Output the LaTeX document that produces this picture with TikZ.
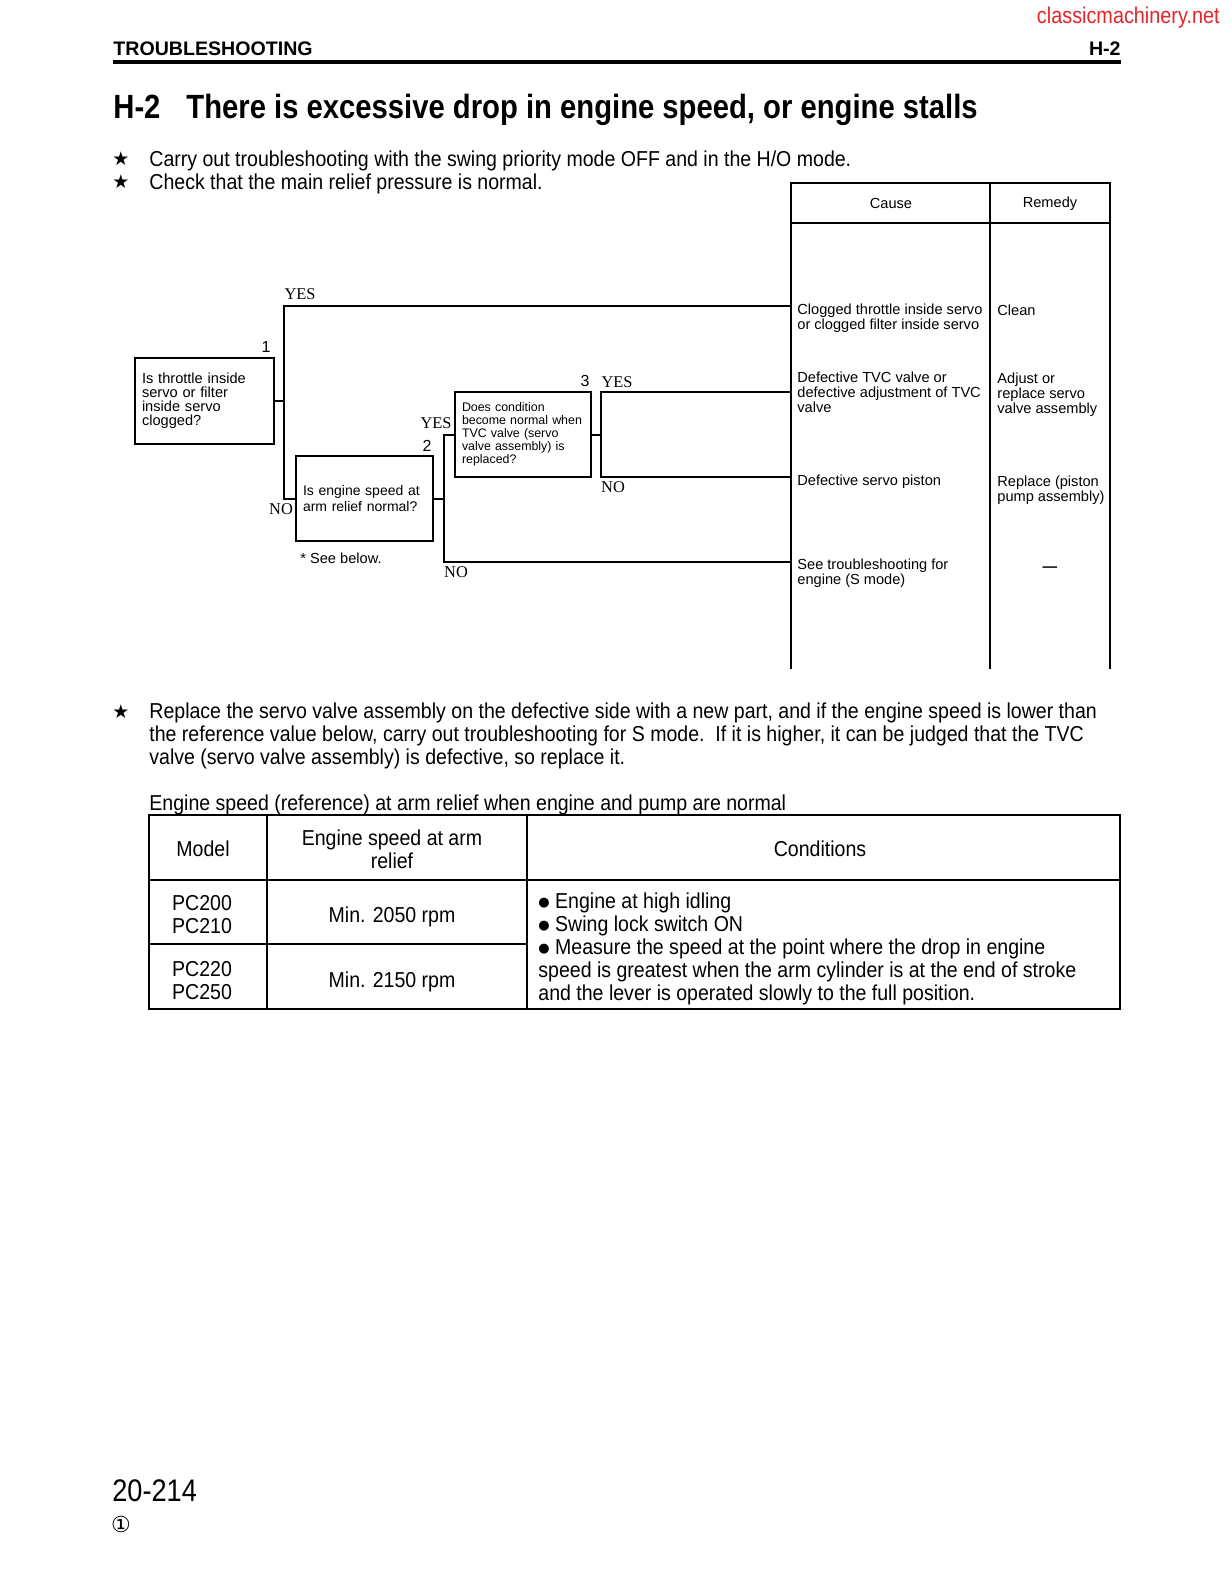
\documentclass[tikz,border=0pt]{standalone}
\usepackage{fontspec}
\setmainfont{Liberation Sans}
\newfontfamily\narrowfont[FakeStretch=0.87]{Liberation Sans}
\newfontfamily\bodyfont[FakeStretch=0.905]{Liberation Sans}
\newfontfamily\answerfont{Liberation Serif}
\newfontfamily\symbolfont{DejaVu Sans}
\usetikzlibrary{positioning}

\definecolor{siteRed}{HTML}{E3262B}

\tikzset{
  every node/.style={inner sep=0pt},
  bodytext/.style={font=\bodyfont\fontsize{10.8}{11.5}\selectfont, align=left},
  startext/.style={font=\symbolfont\fontsize{9.5}{9.5}\selectfont},
  question/.style={draw, line width=1.4pt, align=left, inner xsep=3.5pt},
  chartnote/.style={font=\fontsize{7.3}{7.4}\selectfont, align=left},
  answer/.style={font=\answerfont\fontsize{8.2}{8.2}\selectfont},
  stepno/.style={font=\fontsize{8}{8}\selectfont},
  link/.style={line width=1pt},
  tablerule/.style={line width=1.2pt},
  gridrule/.style={line width=0.9pt}
}

\newcommand{\dotmark}{\raisebox{0.9pt}{\symbolfont\fontsize{6.5}{6.5}\selectfont ●}}

\begin{document}
\begin{tikzpicture}[x=0.5pt, y=-0.5pt]
  \fill[white] (0,0) rectangle (1230,1584);
  \useasboundingbox (0,0) rectangle (1230,1584);

  % Page header
  \node[anchor=east, font=\narrowfont\fontsize{11.4}{11.4}\selectfont, text=siteRed] (site) at (1220,18) {classicmachinery.net};
  \node[anchor=west, font=\bfseries\fontsize{9.8}{10}\selectfont] (section) at (113,49) {TROUBLESHOOTING};
  \node[anchor=east, font=\bfseries\fontsize{9.8}{10}\selectfont] (code) at (1121,49) {H-2};
  \draw[line width=2pt] (113,62) -- (1121,62);

  % Title and notes
  \node[anchor=west, font=\narrowfont\bfseries\fontsize{16.8}{16.8}\selectfont] (title) at (113,110) {H-2\hspace{13pt}There is excessive drop in engine speed, or engine stalls};
  \node[startext] (star1) at (121,159) {★};
  \node[bodytext, anchor=west] (note1) at (149,161) {Carry out troubleshooting with the swing priority mode OFF and in the H/O mode.};
  \node[startext] (star2) at (121,182) {★};
  \node[bodytext, anchor=west] (note2) at (149,184) {Check that the main relief pressure is normal.};

  % Cause / remedy table
  \draw[tablerule] (791,669) -- (791,183) -- (1110,183) -- (1110,669);
  \draw[tablerule] (990,183) -- (990,669);
  \draw[tablerule] (791,223) -- (1110,223);
  \node[chartnote] (causehead) at (891,203) {Cause};
  \node[chartnote] (remedyhead) at (1050,204) {Remedy};

  \node[chartnote, anchor=west] (cause1) at (797,318) {Clogged throttle inside servo\\or clogged filter inside servo};
  \node[chartnote, anchor=west] (cause2) at (797,392) {Defective TVC valve or\\defective adjustment of TVC\\valve};
  \node[chartnote, anchor=west] (cause3) at (797,482) {Defective servo piston};
  \node[chartnote, anchor=west] (cause4) at (797,573) {See troubleshooting for\\engine (S mode)};
  \node[chartnote, anchor=west] (remedy1) at (997,310) {Clean};
  \node[chartnote, anchor=west] (remedy2) at (997,395) {Adjust or\\replace servo\\valve assembly};
  \node[chartnote, anchor=west] (remedy3) at (997,490) {Replace (piston\\pump assembly)};
  \node[chartnote, font=\bfseries\fontsize{7.3}{7.4}\selectfont] (remedy4) at (1050,569) {---};

  % Questions
  \node[question, font=\fontsize{7.3}{7}\selectfont, text width=62.5pt, minimum height=43pt] (q1) at (204.5,401)
    {Is throttle inside\\servo or filter\\inside servo\\clogged?};
  \node[question, font=\fontsize{7}{6.4}\selectfont, text width=61.5pt, minimum height=42.5pt] (q2) at (364.5,498.5)
    {Is engine speed at\\arm relief normal?};
  \node[question, font=\fontsize{6.2}{6.5}\selectfont, text width=61pt, minimum height=42.5pt] (q3) at (523,434.5)
    {Does condition\\become normal when\\TVC valve (servo\\valve assembly) is\\replaced?};
  \node[stepno] (no1) at (266,347) {1};
  \node[stepno] (no2) at (427,446) {2};
  \node[stepno] (no3) at (585,381) {3};
  \node[chartnote, anchor=west] (seebelow) at (300,558) {* See below.};

  % Junctions and branch ends
  \coordinate (j1) at (284,401);
  \coordinate (j2) at (444,498.5);
  \coordinate (j3) at (601,434.5);
  \coordinate (end1) at (791,306);
  \coordinate (end2) at (791,392);
  \coordinate (end3) at (791,477);
  \coordinate (end4) at (791,562);

  % Branches
  \draw[link] (q1.east) -- (j1);
  \draw[link] (end1) -| (j1) |- (q2.west);
  \draw[link] (q2.east) -- (j2);
  \draw[link] (q3.west) -| (j2) |- (end4);
  \draw[link] (q3.east) -- (j3);
  \draw[link] (end2) -| (j3) |- (end3);

  \node[answer] (yes1) at (300,294) {YES};
  \node[answer] (no1a) at (281,509) {NO};
  \node[answer] (yes2) at (436,423) {YES};
  \node[answer] (no2a) at (456,572) {NO};
  \node[answer] (yes3) at (617,382) {YES};
  \node[answer] (no3a) at (613,487) {NO};

  % Note below the chart
  \node[startext] (star3) at (121,712) {★};
  \node[bodytext, anchor=west] (note3) at (149,736)
    {Replace the servo valve assembly on the defective side with a new part, and if the engine speed is lower than\\
     the reference value below, carry out troubleshooting for S mode.\ \ If it is higher, it can be judged that the TVC\\
     valve (servo valve assembly) is defective, so replace it.};
  \node[bodytext, anchor=west] (caption) at (149,805) {Engine speed (reference) at arm relief when engine and pump are normal};

  % Reference speed table
  \draw[gridrule] (149,815) rectangle (1120,1009);
  \draw[gridrule] (149,880) -- (1120,880);
  \draw[gridrule] (149,944) -- (527,944);
  \draw[gridrule] (267,815) -- (267,1009);
  \draw[gridrule] (527,815) -- (527,1009);

  \node[bodytext] (model) at (203,849) {Model};
  \node[bodytext, align=center] (speedhead) at (392,849) {Engine speed at arm\\relief};
  \node[bodytext] (condhead) at (820,849) {Conditions};
  \node[bodytext] (pcA) at (202,915) {PC200\\PC210};
  \node[bodytext] (speedA) at (392,917) {Min. 2050 rpm};
  \node[bodytext] (pcB) at (202,981) {PC220\\PC250};
  \node[bodytext] (speedB) at (392,982) {Min. 2150 rpm};
  \node[bodytext, anchor=west] (cond) at (538,949)
    {\dotmark\ Engine at high idling\\
     \dotmark\ Swing lock switch ON\\
     \dotmark\ Measure the speed at the point where the drop in engine\\
     speed is greatest when the arm cylinder is at the end of stroke\\
     and the lever is operated slowly to the full position.};

  % Page footer
  \node[anchor=west, font=\narrowfont\fontsize{15.6}{15.6}\selectfont] (page) at (112,1491) {20-214};
  \node[font=\symbolfont\fontsize{11}{11}\selectfont] (rev) at (121,1524) {①};
\end{tikzpicture}
\end{document}
